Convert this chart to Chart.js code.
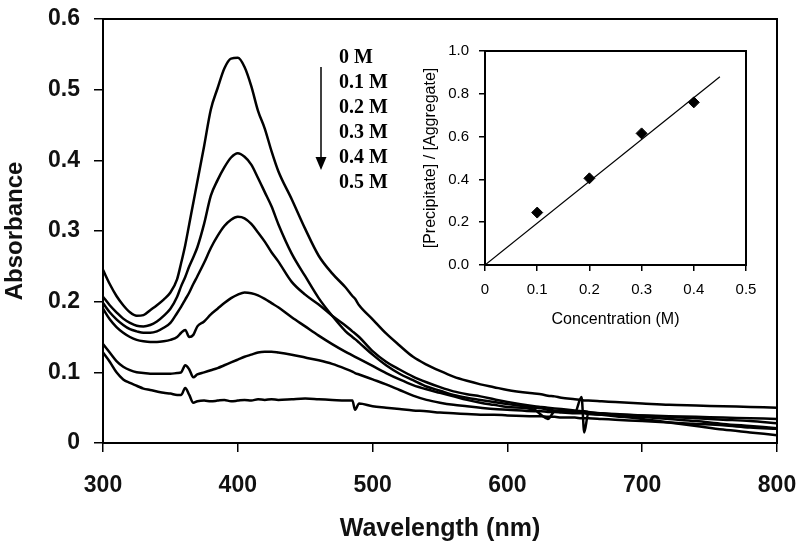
<!DOCTYPE html>
<html><head><meta charset="utf-8">
<script src="https://cdn.jsdelivr.net/npm/chart.js@4"></script>
<style>
html,body{margin:0;padding:0;background:#fff;}
#wrap{position:relative;width:800px;height:553px;}
#main{position:absolute;left:0;top:0;width:800px;height:553px;}
#inset{position:absolute;left:410px;top:40px;width:350px;height:300px;}
</style></head><body>
<div id="wrap"><canvas id="main" width="800" height="553"></canvas><canvas id="inset" width="350" height="300"></canvas></div>
<script>
// ---- data ----
const wavelengths = [300,305,310,315,320,325,330,335,340,345,350,355,
  358,361,364,367,
  370,375,380,385,390,395,400,405,410,415,420,425,430,
  440,450,460,470,480,
  485,487,490,
  500,510,520,530,540,550,560,570,580,590,600,
  620,625,630,635,640,650,
  655,657,660,
  670,680,700,720,740,760,780,800];

const abs0M = [0.245,0.225,0.208,0.195,0.185,0.180,0.181,0.188,0.195,0.203,0.213,0.232,
  0.255,0.28,0.31,0.34,
  0.37,0.42,0.472,0.502,0.53,0.544,0.545,0.532,0.505,0.47,0.445,0.413,0.385,
  0.345,0.303,0.265,0.24,0.22,
  0.208,0.204,0.195,
  0.175,0.155,0.138,0.122,0.111,0.102,0.094,0.088,0.083,0.079,0.075,
  0.07,0.069,0.067,0.066,0.064,0.062,
  0.061,0.060,0.060,
  0.059,0.058,0.056,0.054,0.053,0.052,0.051,0.050];

const abs01M = [0.207,0.195,0.185,0.176,0.170,0.166,0.165,0.167,0.172,0.180,0.190,0.207,
  0.222,0.235,0.25,0.263,
  0.277,0.31,0.35,0.372,0.39,0.404,0.41,0.405,0.394,0.375,0.355,0.335,0.31,
  0.268,0.236,0.205,0.18,0.158,
  0.15,0.147,0.142,
  0.125,0.11,0.098,0.089,0.08,0.074,0.068,0.064,0.061,0.058,0.055,
  0.05,0.049,0.047,0.046,0.045,0.043,
  0.065,0.015,0.042,
  0.04,0.038,0.034,0.029,0.024,0.019,0.015,0.011];

const abs02M = [0.198,0.185,0.175,0.167,0.161,0.158,0.156,0.156,0.158,0.163,0.17,0.184,
  0.193,0.203,0.213,0.225,
  0.236,0.255,0.276,0.293,0.307,0.316,0.32,0.318,0.31,0.298,0.285,0.27,0.257,
  0.228,0.21,0.196,0.18,0.166,
  0.158,0.155,0.15,
  0.13,0.115,0.104,0.094,0.086,0.079,0.073,0.069,0.066,0.062,0.058,
  0.052,0.051,0.05,0.049,0.048,0.046,
  0.045,0.045,0.044,
  0.042,0.04,0.037,0.034,0.031,0.027,0.024,0.021];

const abs03M = [0.19,0.175,0.164,0.156,0.15,0.146,0.144,0.143,0.143,0.144,0.146,0.15,
  0.156,0.16,0.15,0.153,
  0.165,0.172,0.182,0.19,0.198,0.205,0.21,0.213,0.212,0.209,0.204,0.198,0.192,
  0.178,0.165,0.152,0.14,0.129,
  0.124,0.122,0.119,
  0.109,0.099,0.09,0.082,0.076,0.071,0.066,0.061,0.057,0.054,0.051,
  0.047,0.04,0.034,0.045,0.046,0.045,
  0.044,0.044,0.043,
  0.042,0.041,0.039,0.037,0.035,0.033,0.031,0.028];

const abs04M = [0.14,0.128,0.116,0.108,0.103,0.1,0.099,0.098,0.098,0.098,0.098,0.099,
  0.1,0.11,0.104,0.093,
  0.097,0.1,0.103,0.106,0.11,0.114,0.118,0.122,0.125,0.128,0.129,0.129,0.128,
  0.125,0.121,0.117,0.112,0.105,
  0.101,0.099,0.097,
  0.09,0.083,0.075,0.067,0.061,0.057,0.054,0.052,0.05,0.048,0.047,
  0.045,0.045,0.044,0.044,0.043,0.042,
  0.042,0.042,0.041,
  0.04,0.04,0.039,0.038,0.037,0.036,0.035,0.034];

const abs05M = [0.128,0.115,0.1,0.09,0.085,0.081,0.077,0.075,0.073,0.071,0.07,0.068,
  0.068,0.078,0.068,0.057,
  0.059,0.06,0.059,0.06,0.061,0.059,0.06,0.061,0.06,0.062,0.061,0.062,0.061,
  0.062,0.063,0.062,0.061,0.06,
  0.06,0.047,0.056,
  0.052,0.05,0.048,0.046,0.045,0.043,0.042,0.041,0.04,0.04,0.039,
  0.038,0.038,0.037,0.037,0.036,0.036,
  0.035,0.035,0.035,
  0.034,0.033,0.031,0.029,0.027,0.025,0.022,0.02];

const concLabels = ['0 M','0.1 M','0.2 M','0.3 M','0.4 M','0.5 M'];
const xTickValues = [300,400,500,600,700,800];
const yTickValues = [0,0.1,0.2,0.3,0.4,0.5,0.6];

const insetConc = [0.1,0.2,0.3,0.4];
const insetRatio = [0.245,0.405,0.615,0.76];
const fitConc = [0,0.45];
const fitRatio = [0,0.88];

// ---- helpers ----
const series = [abs0M,abs01M,abs02M,abs03M,abs04M,abs05M];
const SANS = '"Liberation Sans", Arial, sans-serif';

const boxPlugin = {
  id:'box',
  afterDraw(chart, args, opts){
    const {ctx, chartArea:a} = chart;
    ctx.save();
    ctx.strokeStyle='#000'; ctx.lineWidth=opts.width||2;
    ctx.strokeRect(a.left,a.top,a.right-a.left,a.bottom-a.top);
    ctx.restore();
  }
};

const notesPlugin = {
  id:'notes',
  afterDraw(chart){
    const ctx = chart.ctx;
    ctx.save();
    ctx.fillStyle='#000';
    ctx.font='bold 20px "Liberation Serif", "Times New Roman", serif';
    ctx.textAlign='left'; ctx.textBaseline='middle';
    concLabels.forEach((t,i)=>ctx.fillText(t,339,58+i*24.9));
    ctx.strokeStyle='#000'; ctx.lineWidth=1.5;
    ctx.beginPath(); ctx.moveTo(321,67); ctx.lineTo(321,160); ctx.stroke();
    ctx.beginPath(); ctx.moveTo(315.5,157); ctx.lineTo(326.5,157); ctx.lineTo(321,170); ctx.closePath(); ctx.fill();
    ctx.restore();
  }
};

const fmt1 = v => (Math.abs(v) < 1e-9 ? '0' : Number(v).toFixed(1));
function zeroPad(s){ s.paddingLeft=0; s.paddingRight=0; s.paddingTop=0; s.paddingBottom=0; }

new Chart(document.getElementById('main'), {
  type:'line',
  data:{
    datasets: series.map((vals,i)=>({
      label: concLabels[i],
      data: wavelengths.map((w,j)=>({x:w,y:vals[j]})),
      borderColor:'#000', borderWidth:2.5, pointRadius:0, fill:false,
      cubicInterpolationMode:'monotone'
    }))
  },
  options:{
    responsive:false, animation:false, devicePixelRatio:1,
    layout:{padding:{top:19,right:23,left:0,bottom:0}},
    plugins:{legend:{display:false}, tooltip:{enabled:false}, box:{width:2}},
    scales:{
      x:{
        type:'linear', min:300, max:800,
        afterBuildTicks(s){ s.ticks = xTickValues.map(v=>({value:v})); },
        ticks:{font:{family:SANS,size:23,weight:'bold'}, color:'#111', padding:20, maxRotation:0, autoSkip:false},
        grid:{display:true, drawOnChartArea:false, drawTicks:true, tickLength:9, color:'#000', lineWidth:1.5},
        border:{display:true, color:'#000', width:2},
        title:{display:true, text:'Wavelength (nm)', font:{family:SANS,size:25,weight:'bold'}, color:'#111', padding:{top:0,bottom:9}},
        afterFit(s){ s.height = 110; zeroPad(s); }
      },
      y:{
        type:'linear', min:0, max:0.6,
        afterBuildTicks(s){ s.ticks = yTickValues.map(v=>({value:v})); },
        ticks:{font:{family:SANS,size:23,weight:'bold'}, color:'#111', padding:14, callback:fmt1, autoSkip:false},
        grid:{display:true, drawOnChartArea:false, drawTicks:true, tickLength:9, color:'#000', lineWidth:1.5},
        border:{display:true, color:'#000', width:2},
        title:{display:true, text:'Absorbance', font:{family:SANS,size:24,weight:'bold'}, color:'#111', padding:{top:1,bottom:0}},
        afterFit(s){ s.width = 103; zeroPad(s); }
      }
    }
  },
  plugins:[boxPlugin, notesPlugin]
});

new Chart(document.getElementById('inset'), {
  type:'scatter',
  data:{
    datasets:[
      {label:'data', data: insetConc.map((c,i)=>({x:c,y:insetRatio[i]})),
       pointStyle:'rectRot', pointRadius:5.5, backgroundColor:'#000', borderColor:'#000', borderWidth:1, showLine:false},
      {label:'fit', data: fitConc.map((c,i)=>({x:c,y:fitRatio[i]})),
       showLine:true, pointRadius:0, borderColor:'#000', borderWidth:1.2, fill:false}
    ]
  },
  options:{
    responsive:false, animation:false, devicePixelRatio:1,
    layout:{padding:{top:11,right:14,left:0,bottom:0}},
    plugins:{legend:{display:false}, tooltip:{enabled:false}, box:{width:2}},
    scales:{
      x:{
        type:'linear', min:0, max:0.5,
        ticks:{stepSize:0.1, font:{family:SANS,size:15}, color:'#000', padding:10, callback:fmt1, maxRotation:0},
        grid:{display:true, drawOnChartArea:false, drawTicks:true, tickLength:6, color:'#000', lineWidth:1.5},
        border:{display:true, color:'#000', width:2},
        title:{display:true, text:'Concentration (M)', font:{family:SANS,size:16}, color:'#000', padding:{top:0,bottom:11}},
        afterFit(s){ s.height = 75; zeroPad(s); }
      },
      y:{
        type:'linear', min:0, max:1.0,
        ticks:{stepSize:0.2, font:{family:SANS,size:15}, color:'#000', padding:10, callback:v=>Number(v).toFixed(1)},
        grid:{display:true, drawOnChartArea:false, drawTicks:true, tickLength:6, color:'#000', lineWidth:1.5},
        border:{display:true, color:'#000', width:2},
        title:{display:true, text:'[Precipitate] / [Aggregate]', font:{family:SANS,size:16}, color:'#000', padding:{top:11,bottom:0}},
        afterFit(s){ s.width = 75; zeroPad(s); }
      }
    }
  },
  plugins:[boxPlugin]
});
</script>
</body></html>
